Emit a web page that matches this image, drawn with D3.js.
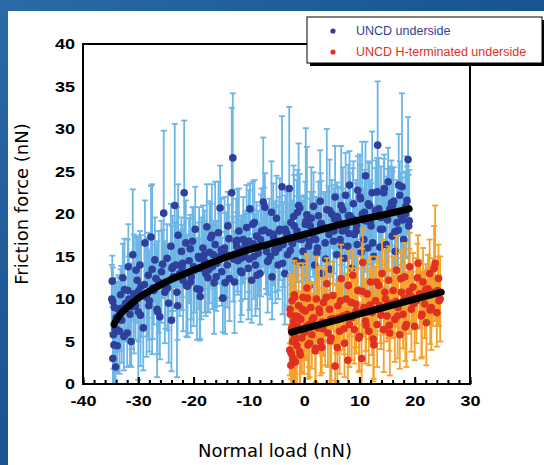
<!DOCTYPE html>
<html>
<head>
<meta charset="utf-8">
<script src="https://d3js.org/d3.v7.min.js"></script>
<style>
  body { margin: 0; background: #1d5b97; }
  .tick text { font-family: "Liberation Sans", Arial, sans-serif; font-weight: bold; font-size: 15px; fill: #000; }
  .title { font-family: "DejaVu Sans", Verdana, sans-serif; font-size: 18px; fill: #000; }
  .legend text { font-family: "Liberation Sans", Arial, sans-serif; font-size: 12.5px; }
</style>
</head>
<body>
<svg id="chart" width="544" height="465"></svg>
<script>
// UNCD underside: load (nN), friction (nN), error (half length)
const blueLoad = [-34.8,-34.7,-34.6,-34.5,-34.4,-34.3,-34.2,-34.1,-34.0,-33.8,-33.6,-33.4,-33.2,
  -33.0,-32.8,-32.5,-32.3,-32.0,-31.8,-31.5,-31.3,-31.0,
  -30.8,-30.5,-30.2,-30.0,-29.7,-29.5,-29.1,-28.8,-28.5,
  -28.2,-28.0,-27.7,-27.5,-27.2,-27.0,-26.6,-26.3,-26.1,
  -25.8,-25.4,-25.1,-24.8,-24.5,-24.1,-24.0,-23.7,-23.4,
  -23.2,-23.0,-22.8,-22.5,-22.2,-21.9,-21.7,-21.4,-21.1,
  -20.8,-20.5,-20.2,-20.0,-19.7,-19.4,-19.1,-18.8,-18.6,
  -18.3,-18.0,-17.6,-17.4,-17.1,-16.9,-16.6,-16.3,-16.1,
  -15.8,-15.5,-15.2,-14.9,-14.7,-14.4,-14.1,-13.8,-13.5,
  -13.1,-12.9,-12.6,-12.3,-12.0,-11.8,-11.5,-11.2,-11.0,
  -10.7,-10.4,-10.1,-9.8,-9.5,-9.2,-9.0,-8.8,-8.6,
  -8.3,-8.0,-7.7,-7.4,-7.1,-6.9,-6.6,-6.3,-6.1,
  -5.8,-5.5,-5.2,-5.0,-4.7,-4.4,-4.0,-3.8,-3.5,
  -3.2,-3.0,-2.7,-2.4,-2.1,-1.8,-1.5,-1.2,-1.0,
  -0.8,-0.5,-0.2,0.2,0.5,0.5,0.8,1.0,1.3,
  1.6,1.9,2.3,2.6,2.9,3.2,3.5,3.8,4.1,
  4.4,4.7,5.0,5.3,5.6,5.9,6.2,6.5,6.7,
  7.0,7.3,7.6,7.9,8.2,8.3,8.6,8.9,9.1,
  9.4,9.7,10.1,10.3,10.5,10.8,11.1,11.3,11.5,
  11.8,12.1,12.3,12.6,12.9,13.2,13.3,13.7,13.9,
  14.2,14.5,14.8,15.2,15.5,15.9,16.2,16.5,16.8,17.0,17.3,17.7,18.0,18.3,18.6,18.8,19.0,
  -33.5,-31.7,-29.9,-28.4,-26.8,-25.2,-23.9,-22.0,-20.4,-19.0,-17.8,-16.4,-15.0,-13.9,-12.2,-11.4,-10.0,-9.1,-7.9,-6.8,
  -5.6,-4.6,-3.4,-2.2,-1.3,0.0,1.1,2.1,3.0,4.5,5.5,6.9,8.0,9.5,10.9,12.0,13.5,15.0,16.0,17.5,18.5,
  -34.6,-33.9,-33.1,-32.6,-31.9,-31.2,-30.4,-29.6,-28.9,-28.1,-27.4,-26.5,-25.6,-24.7,-23.8,-22.9,-22.1,-21.3,-20.6,-19.8,
  -18.9,-18.1,-17.3,-16.7,-15.9,-15.1,-14.3,-13.6,-12.8,-12.1,-11.3,-10.6,-9.9,-9.3,-8.5,-7.8,-7.2,-6.5,-5.9,-5.3,
  -4.5,-3.9,-3.1,-2.5,-1.9,-1.1,-0.4,0.3,1.0,1.7,2.4,3.1,3.9,4.6,5.4,6.0,6.8,7.5,8.1,8.8,
  9.6,10.2,11.0,11.6,12.4,13.0,13.8,14.4,15.1,15.8,16.4,17.1,17.8,18.4,18.9];
const blueFric = [10.0,12.1,3.0,5.8,4.6,9.0,6.5,2.0,7.8,4.5,8.8,6.2,10.5,
  7.5,12.5,11.1,9.5,6.0,13.8,8.2,5.0,15.2,
  10.6,9.2,12.2,8.5,14.0,11.5,6.6,16.6,10.2,
  12.8,9.8,17.3,13.5,11.0,14.6,8.8,12.0,7.9,
  13.2,20.1,11.5,14.8,9.5,16.2,7.5,12.6,21.0,
  14.0,10.8,17.5,13.0,15.6,12.2,22.5,16.6,11.5,
  14.5,12.0,16.8,13.8,18.2,11.2,15.0,10.3,13.6,
  16.0,14.4,18.5,12.5,15.5,17.2,13.8,11.9,16.4,
  14.2,17.8,20.7,13.2,10.1,16.0,15.2,18.6,12.4,
  22.5,26.6,12.0,16.8,14.5,18.0,13.3,15.8,17.0,
  15.0,18.4,13.6,20.6,12.2,16.5,19.0,14.0,17.4,
  15.4,13.0,18.0,21.4,20.8,16.2,14.4,17.8,15.0,
  12.6,17.2,15.5,19.5,14.0,18.2,23.2,16.4,13.0,
  17.8,15.2,23.0,19.0,16.5,18.6,14.5,20.2,21.0,
  20.7,17.0,15.6,18.8,19.9,11.3,16.2,11.6,19.5,
  17.6,14.0,15.4,19.8,21.5,13.0,18.4,16.6,20.5,
  18.3,13.5,20.0,16.8,22.0,15.2,19.2,17.0,21.0,
  20.5,14.8,18.5,16.2,23.4,19.8,13.6,21.2,17.6,
  18.0,22.8,22.0,15.5,20.0,17.0,24.5,19.2,16.0,
  21.0,18.6,22.5,15.0,20.4,22.6,28.1,16.1,19.6,
  18.2,23.0,16.4,23.8,20.6,17.4,21.5,15.6,19.0,18.1,22.2,23.2,17.0,20.0,21.6,26.4,19.2,
  8.0,10.0,11.0,10.6,12.4,10.8,13.6,14.2,12.6,14.8,13.0,15.2,15.8,14.0,16.2,14.8,16.8,15.0,17.0,15.6,
  17.6,16.0,18.2,16.6,18.0,17.2,18.6,17.0,18.8,17.6,19.4,18.0,19.8,18.6,20.2,19.0,20.6,19.4,21.0,19.8,20.8,
  9.7,6.4,8.9,5.6,11.0,9.1,13.4,8.1,11.7,9.2,11.3,8.5,14.1,11.3,13.8,9.2,13.7,11.6,15.9,13.4,
  11.1,15.2,13.4,17.5,12.6,15.1,11.9,17.1,14.7,16.9,13.1,16.4,14.7,18.8,12.8,16.3,18.1,14.5,20.2,15.8,
  18.0,14.2,17.6,15.7,19.7,17.1,14.3,19.1,16.8,20.9,16.0,18.9,14.7,20.4,18.0,19.7,16.3,22.2,17.7,19.4,
  16.4,21.8,19.2,21.2,16.6,20.3,18.2,22.5,19.3,21.3,17.9,23.4,19.3,20.9,18.6];
const blueErr = [4,3,3,4,5,3,6,2,4,3,4,5,3,
  5,4,6,3,4,5,6,3,7.7,
  7,4,5,8,4,6,5,5,7,
  5,6,6,10,4,5,8,6,5,
  6,9.7,5,4,7,5,6,4,9.6,
  5,10,6,5,4,6,8.5,5,6,
  5,6,4,7,5,6,4,5,6,
  5,6,5,4,6,4,5,6,7.4,
  5,6,5,4,4,6,5,4,5,
  10,7.6,6,5,4,5,6,4,5,
  5,5,6,3,5,4,5,6,4,
  5,6,5,7.6,4,5,6,4,5,
  5,4,6,5,4,6,8.3,5,6,
  5,6,9.6,4,5,6,4,5,7.3,
  4,5,6,5,8,5,4,5,6,
  5,6,5,4,6,5,4,6,9.5,
  5,6,4,5,6,5,4,5,7,
  5,6,4,5,4,5,6,5,4,
  6,4,5,5,8.5,6,4,5,6,
  5,5,7.2,6,5,4,7.5,5,6,
  5,4,6,4,5,8,4,6,5,5,4,11,6,5,4,5,6,
  4,5,6,5,4,6,5,4,5,6,5,4,6,5,4,5,6,5,4,5,
  6,5,4,5,6,5,4,5,6,5,4,5,6,5,4,5,6,5,4,5,6,
  4,5,5,4,6,5,4,6,5,4,6,5,4,5,6,4,5,6,4,5,
  6,4,5,6,4,5,6,4,5,6,5,4,6,5,4,6,5,4,6,5,
  4,6,5,4,6,5,4,11,5,4,6,5,4,6,5,4,6,5,4,6,
  5,4,6,5,4,6,5,4,6,5,4,6,5,4,6];

// UNCD H-terminated underside
const redLoad = [-2.6,-2.5,-2.4,-2.3,-2.2,-2.1,-2.0,-1.9,-1.8,-1.7,-1.6,-1.5,-1.3,-1.2,-1.0,-0.8,-0.6,-0.4,-0.2,0.0,
  0.2,0.5,0.7,0.9,1.2,1.4,1.7,2.0,2.2,2.5,2.8,3.0,3.2,3.5,3.8,4.1,4.3,4.6,4.9,5.2,
  5.6,5.8,6.1,6.4,6.7,7.0,7.3,7.6,7.9,8.2,8.5,8.8,9.1,9.4,9.7,10.0,10.4,10.6,10.8,11.1,
  11.4,11.7,12.0,12.3,12.6,12.9,13.2,13.5,13.8,14.1,14.4,14.7,15.0,15.3,15.5,15.8,16.1,16.4,16.7,17.0,
  17.3,17.6,17.9,18.2,18.5,18.8,19.1,19.4,19.7,20.0,20.3,20.6,20.9,21.2,21.5,21.8,22.1,22.4,22.7,23.0,
  23.3,23.7,24.0,24.3,24.6,
  -1.4,0.4,1.9,3.3,4.8,6.3,7.8,9.2,10.7,12.2,13.7,15.2,16.6,18.1,19.6,21.0,22.6,24.2,
  -2.55,-2.35,-2.15,-1.95,-1.75,-1.55,-1.1,-0.7,-0.3,0.1,0.6,1.0,1.5,2.1,2.7,3.4,4.0,4.7,5.4,6.0,
  6.6,7.2,8.0,8.6,9.3,9.9,10.5,11.2,11.9,12.5,13.1,13.9,14.6,15.4,16.0,16.9,17.5,18.3,19.0,19.8,
  20.5,21.3,22.0,22.8,23.5,24.4];
const redFric = [4.0,8.2,2.2,6.5,9.8,5.0,3.0,7.4,10.5,5.6,2.6,8.0,4.5,6.8,9.2,3.8,7.6,5.4,10.2,6.2,
  8.6,11.3,4.6,7.0,9.0,5.8,7.8,3.9,10.0,6.6,8.4,5.0,4.3,9.6,7.2,11.8,6.0,8.8,5.4,10.4,
  2.1,7.6,9.2,6.2,12.4,8.0,4.8,10.0,2.8,7.0,9.6,12.8,6.4,8.6,11.0,5.6,3.0,14.3,9.0,7.4,
  10.6,6.2,12.0,8.4,4.6,9.8,7.0,11.6,8.8,13.0,6.4,10.0,8.0,12.2,6.0,9.4,11.0,7.6,13.4,9.0,
  5.8,10.8,8.2,12.6,7.0,10.2,13.8,8.8,11.4,6.8,9.8,14.2,10.6,8.0,12.0,9.4,7.2,11.2,13.0,9.0,
  10.8,14.2,8.4,12.4,10.0,
  6.4,6.8,6.9,7.3,7.6,7.8,8.2,8.3,8.6,8.9,9.2,9.4,9.7,10.0,10.2,10.5,10.6,11.0,
  8.8,3.6,6.7,2.8,10.2,5.2,7.9,3.4,8.8,6.1,10.1,4.8,7.6,4.2,8.8,6.5,10.2,5.1,7.7,4.3,
  9.8,6.5,11.6,7.8,9.4,5.4,10.9,6.9,9.3,5.3,12.0,8.1,10.8,6.9,9.5,8.0,12.4,6.7,10.9,9.4,
  12.5,8.2,11.1,8.7,13.6,9.8];
const redErr = [3,4,2.5,4,3,5,3,4,4,5,3,3,4.5,4,5,4,3,4,4,5,
  3,4,4,5,3,4,4,4,5,3,4,4,3,4,5,3,4,4,5,4,
  3,4,3,5,4,4,4,3,4,5,4,3,4,5,4,4,4,4,3,5,
  4,4,3,5,4,4,5,3,4,4,5,4,3,4,5,4,4,5,4,3,
  4,5,4,4,5,3,4,5,4,4,5,3.3,4,5,4,4,5,4,4,5,
  4,6.8,4,4,5,
  3,4,3,4,3,4,3,4,3,4,3,4,3,4,3,4,3,4,
  4,3,4,5,2,4,3,5,4,3,5,4,3,4,5,3,4,5,3,4,
  5,3,4,5,3,4,5,3,4,5,3,4,5,3,4,5,3,4,5,3,
  4,5,3,4,5,3];

// fitted curves
const blueFitLoad = [-34.4,-34,-33,-32,-30,-27.5,-25,-20,-15,-10,-5,0,5,10,15,19];
const blueFitFric = [7.0,7.5,8.4,9.0,10.1,11.1,12.0,13.4,14.7,15.8,16.7,17.6,18.5,19.3,20.0,20.6];
const redFitLoad = [-2.3,24.8];
const redFitFric = [6.1,10.8];

const xTicks = [-40,-30,-20,-10,0,10,20,30];
const yTicks = [0,5,10,15,20,25,30,35,40];
const legendLabels = ["UNCD underside","UNCD H-terminated underside"];

const svg = d3.select("#chart");

// blue frame + white panel
const defs = svg.append("defs");
const grad = defs.append("linearGradient").attr("id","bg").attr("x1",0).attr("y1",0).attr("x2",1).attr("y2",1);
grad.append("stop").attr("offset","0%").attr("stop-color","#2a6aa6");
grad.append("stop").attr("offset","50%").attr("stop-color","#175491");
grad.append("stop").attr("offset","100%").attr("stop-color","#22619e");
svg.append("rect").attr("width",544).attr("height",465).attr("fill","url(#bg)");
svg.append("rect").attr("x",8).attr("y",11).attr("width",536).attr("height",454).attr("fill","#fff");

const x = d3.scaleLinear().domain([-40,30]).range([83,470]);
const y = d3.scaleLinear().domain([0,40]).range([384,44]);

function drawSeries(load, fric, err, barColor, dotColor) {
  const data = load.map((l,i) => ({l:l, f:fric[i], e:err[i]}));
  const g = svg.append("g");
  const bars = g.append("g").attr("stroke", barColor).attr("stroke-width",1.8);
  bars.selectAll("line.v").data(data).join("line").attr("class","v")
    .attr("x1", d => x(d.l)).attr("x2", d => x(d.l))
    .attr("y1", d => y(Math.max(0, d.f - d.e))).attr("y2", d => y(d.f + d.e));
  bars.selectAll("line.t").data(data).join("line").attr("class","t")
    .attr("x1", d => x(d.l) - 3).attr("x2", d => x(d.l) + 3)
    .attr("y1", d => y(d.f + d.e)).attr("y2", d => y(d.f + d.e));
  bars.selectAll("line.b").data(data.filter(d => d.f - d.e > 0)).join("line").attr("class","b")
    .attr("x1", d => x(d.l) - 3).attr("x2", d => x(d.l) + 3)
    .attr("y1", d => y(d.f - d.e)).attr("y2", d => y(d.f - d.e));
  g.selectAll("circle").data(data).join("circle")
    .attr("cx", d => x(d.l)).attr("cy", d => y(d.f)).attr("r",3.8)
    .attr("fill", dotColor);
}

function drawFit(load, fric) {
  const line = d3.line().x(d => x(d[0])).y(d => y(d[1])).curve(d3.curveCatmullRom);
  svg.append("path").datum(load.map((l,i) => [l, fric[i]]))
    .attr("d", line).attr("fill","none").attr("stroke","#000")
    .attr("stroke-width",7).attr("stroke-linecap","round");
}

drawSeries(blueLoad, blueFric, blueErr, "#6cb6e6", "#2e3f9c");
drawFit(blueFitLoad, blueFitFric);
drawSeries(redLoad, redFric, redErr, "#f5a12a", "#e0301f");
drawFit(redFitLoad, redFitFric);

// frame
svg.append("rect").attr("x",83).attr("y",44).attr("width",387).attr("height",340)
  .attr("fill","none").attr("stroke","#000").attr("stroke-width",2);

// x axis: minor ticks every 2 nN, major every 10, pointing inward
svg.append("g").attr("transform","translate(0,384)")
  .call(d3.axisBottom(x).tickValues(d3.range(-40,31,2)).tickSize(-4).tickFormat(""))
  .call(g => g.select(".domain").remove())
  .call(g => g.selectAll(".tick line").attr("stroke-width",2));
const xAxis = svg.append("g").attr("transform","translate(0,384)")
  .call(d3.axisBottom(x).tickValues(xTicks).tickSize(-7).tickPadding(0).tickFormat(d => String(d)))
  .call(g => g.select(".domain").remove())
  .call(g => g.selectAll(".tick line").attr("stroke-width",2));
xAxis.selectAll(".tick text").attr("y",11).attr("transform","scale(1.2,1)");

const yAxis = svg.append("g").attr("transform","translate(83,0)")
  .call(d3.axisLeft(y).tickValues(yTicks).tickSize(0))
  .call(g => g.select(".domain").remove());
yAxis.selectAll(".tick text").attr("x",0).attr("transform","translate(-8,0) scale(1.2,1)");

// axis titles
svg.append("text").attr("class","title").attr("x",275).attr("y",457)
  .attr("text-anchor","middle").text("Normal load (nN)");
svg.append("text").attr("class","title")
  .attr("transform","translate(28,204) rotate(-90)")
  .attr("text-anchor","middle").text("Friction force (nN)");

// legend
const legend = svg.append("g").attr("class","legend");
legend.append("rect").attr("x",310).attr("y",20).attr("width",235).attr("height",46).attr("fill","#000");
legend.append("rect").attr("x",307).attr("y",17).attr("width",235).attr("height",46)
  .attr("fill","#fff").attr("stroke","#000").attr("stroke-width",1);
const legendColors = ["#2e3f9c","#e0301f"];
legendLabels.forEach((lab,i) => {
  legend.append("circle").attr("cx",333).attr("cy",31 + i*21).attr("r",2.6).attr("fill",legendColors[i]);
  legend.append("text").attr("x",356).attr("y",35 + i*21).attr("fill",legendColors[i]).text(lab);
});
</script>
</body>
</html>
